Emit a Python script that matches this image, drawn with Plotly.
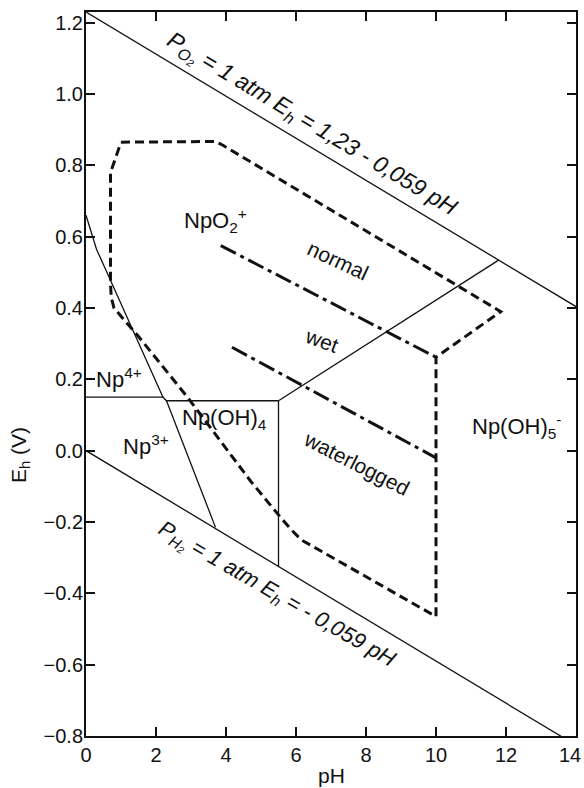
import plotly.graph_objects as go

# ---- data (pH, Eh in V) ----
# water stability limits
o2_ph = [0, 14]
o2_eh = [1.23, 0.404]
h2_ph = [0, 14]
h2_eh = [0.0, -0.826]

# neptunium species boundaries
np4_npo2_ph = [0.0, 0.3, 2.2]
np4_npo2_eh = [0.66, 0.565, 0.15]
horiz_ph = [0.0, 2.2, 2.3, 5.5]
horiz_eh = [0.15, 0.15, 0.14, 0.14]
np3_np4oh_ph = [2.3, 3.7]
np3_np4oh_eh = [0.14, -0.215]
vert_ph = [5.5, 5.5]
vert_eh = [0.14, -0.325]
npo2_npoh5_ph = [5.5, 11.8]
npo2_npoh5_eh = [0.14, 0.535]

# soil field (dashed outline)
soil_ph = [1.0, 3.7, 3.9, 11.85, 10.0, 10.0, 6.15, 5.85, 5.5, 4.7, 2.9, 1.5,
           0.8, 0.72, 0.7, 0.7, 1.0]
soil_eh = [0.865, 0.867, 0.857, 0.39, 0.262, -0.465, -0.25, -0.22, -0.18,
           -0.085, 0.15, 0.32, 0.40, 0.43, 0.47, 0.78, 0.865]

# soil moisture boundaries (dash-dot)
normal_wet_ph = [3.85, 10.0]
normal_wet_eh = [0.575, 0.262]
wet_water_ph = [4.17, 10.0]
wet_water_eh = [0.29, -0.02]

# tick values
x_ticks = [0, 2, 4, 6, 8, 10, 12, 14]
y_ticks = [-0.8, -0.6, -0.4, -0.2, 0.0, 0.2, 0.4, 0.6, 0.8, 1.0, 1.2]

FONT = "Liberation Sans, Arial, Helvetica, sans-serif"
BLACK = "#111111"

fig = go.Figure()


def add_line(x, y, width=1.3, dash="solid"):
    fig.add_trace(go.Scatter(x=x, y=y, mode="lines",
                             line=dict(color=BLACK, width=width, dash=dash),
                             showlegend=False, hoverinfo="skip"))


add_line(o2_ph, o2_eh)
add_line(h2_ph, h2_eh)
add_line(np4_npo2_ph, np4_npo2_eh)
add_line(horiz_ph, horiz_eh)
add_line(np3_np4oh_ph, np3_np4oh_eh)
add_line(vert_ph, vert_eh)
add_line(npo2_npoh5_ph, npo2_npoh5_eh)
add_line(soil_ph, soil_eh, width=3, dash="9px,5px")
add_line(normal_wet_ph, normal_wet_eh, width=3, dash="17px,5px,4px,5px")
add_line(wet_water_ph, wet_water_eh, width=3, dash="17px,5px,4px,5px")

labels = [
    # text, pH, Eh, size, angle
    ("<i>P<sub>O₂</sub> = 1 atm E<sub>h</sub> = 1,23 - 0,059 pH</i>", 6.45, 0.915, 23, 31),
    ("<i>P<sub>H₂</sub> = 1 atm E<sub>h</sub> = - 0,059 pH</i>", 5.45, -0.405, 22, 30),
    ("NpO<sub>2</sub><sup>+</sup>", 3.7, 0.645, 22, 0),
    ("normal", 7.2, 0.533, 21, 25),
    ("wet", 6.74, 0.31, 21, 20),
    ("waterlogged", 7.74, -0.035, 21, 27),
    ("Np(OH)<sub>5</sub><sup>-</sup>", 12.3, 0.068, 22, 0),
    ("Np<sup>4+</sup>", 0.95, 0.205, 22, 0),
    ("Np(OH)<sub>4</sub>", 3.97, 0.09, 22, 0),
    ("Np<sup>3+</sup>", 1.72, 0.015, 22, 0),
]
for text, x, y, size, ang in labels:
    fig.add_annotation(x=x, y=y, text=text, showarrow=False, textangle=ang,
                       xanchor="center", yanchor="middle",
                       font=dict(family=FONT, size=size, color=BLACK))

# axis titles
fig.add_annotation(xref="paper", yref="paper", x=0.5, y=-0.055, text="pH",
                   showarrow=False, xanchor="center", yanchor="middle",
                   font=dict(family=FONT, size=21, color=BLACK))
fig.add_annotation(xref="paper", yref="paper", x=-0.135, y=0.388,
                   text="E<sub>h</sub> (V)", textangle=-90, showarrow=False,
                   xanchor="center", yanchor="middle",
                   font=dict(family=FONT, size=21, color=BLACK))

# last x tick label sits flush against the right page edge
fig.add_annotation(xref="paper", yref="paper", x=1.0143, y=-0.0262,
                   text=str(x_ticks[-1]), showarrow=False,
                   xanchor="right", yanchor="middle",
                   font=dict(family=FONT, size=20, color=BLACK))

axis_common = dict(showgrid=False, zeroline=False, showline=True, linewidth=2,
                   linecolor=BLACK, mirror="ticks", ticks="inside", ticklen=9,
                   tickwidth=1.5, tickcolor=BLACK, automargin=False,
                   tickfont=dict(family=FONT, size=20, color=BLACK))

fig.update_xaxes(range=[0, 14], tickvals=x_ticks,
                 ticktext=[str(v) for v in x_ticks[:-1]] + [""], **axis_common)
fig.update_yaxes(range=[-0.8, 1.23], tickvals=y_ticks, tickformat=".1f",
                 ticklabelstandoff=-3, **axis_common)

fig.update_layout(width=584, height=788, autosize=False,
                  margin=dict(l=86, r=8, t=12, b=52, autoexpand=False),
                  paper_bgcolor="white", plot_bgcolor="white",
                  font=dict(family=FONT, color=BLACK))

fig.write_html("out.html")
